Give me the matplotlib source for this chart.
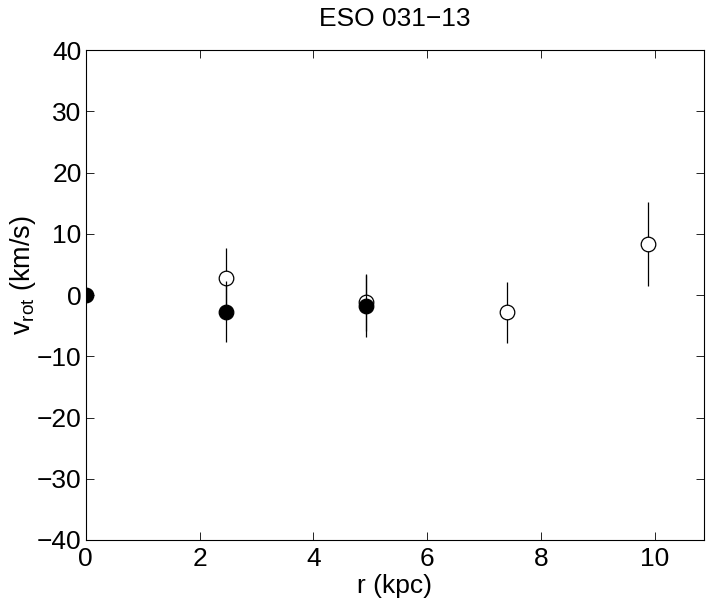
import matplotlib
matplotlib.use("Agg")
import matplotlib.pyplot as plt

plt.rcParams['font.family'] = ['Liberation Sans', 'DejaVu Sans']
plt.rcParams['axes.unicode_minus'] = True
plt.rcParams['mathtext.fontset'] = 'custom'
plt.rcParams['mathtext.rm'] = 'Liberation Sans'
plt.rcParams['mathtext.it'] = 'Liberation Sans'

title = "ESO 031\u221213"

# filled points (approaching side)
r_filled = [0.0, 2.47, 4.93]
v_filled = [0.0, -2.7, -1.8]
e_filled = [0.0, 5.0, 5.0]

# open points (receding side)
r_open = [2.47, 4.93, 7.40, 9.87]
v_open = [2.7, -1.2, -2.8, 8.3]
e_open = [5.0, 4.7, 5.0, 6.85]

xticks = [0, 2, 4, 6, 8, 10]
yticks = [-40, -30, -20, -10, 0, 10, 20, 30, 40]

fig = plt.figure(figsize=(7.10, 6.03), dpi=100)
ax = fig.add_axes([0.1207, 0.1045, 0.8708, 0.8125])

ax.errorbar(r_open, v_open, yerr=e_open, fmt='o', color='black', mfc='white',
            mec='black', ms=10.5, mew=0.9, elinewidth=0.9, capsize=0, zorder=3)
ax.errorbar(r_filled, v_filled, yerr=e_filled, fmt='o', color='black', mfc='black',
            mec='black', ms=10.5, mew=0.9, elinewidth=0.9, capsize=0, zorder=4)

ax.set_xlim(0, 10.86)
ax.set_ylim(-40, 40)
ax.set_xticks(xticks)
ax.set_yticks(yticks)
ax.tick_params(direction='in', length=6, width=0.6, top=True, right=True,
               labelsize=19)
ax.tick_params(axis='x', pad=5)
ax.tick_params(axis='y', pad=3)
for s in ax.spines.values():
    s.set_linewidth(0.8)

ax.set_title(title, fontsize=19, pad=17)
ax.set_xlabel("r (kpc)", fontsize=19, labelpad=2)
ax.set_ylabel(r"v$_{\mathrm{rot}}$ (km/s)", fontsize=19.5, va='center', ha='center')
ax.yaxis.set_label_coords(-0.102, 0.54)

fig.savefig("out.png", dpi=100)
